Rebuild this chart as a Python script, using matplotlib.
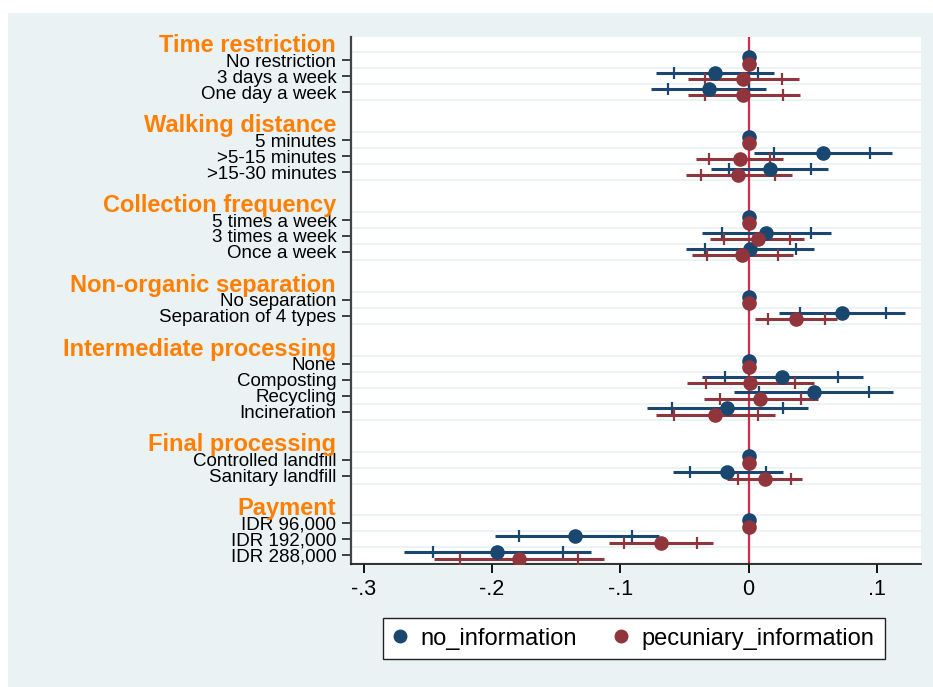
import numpy as np
import matplotlib
matplotlib.use("Agg")
import matplotlib.pyplot as plt
from matplotlib.lines import Line2D
from matplotlib.patches import Rectangle

plt.rcParams['font.family'] = ['Liberation Sans', 'DejaVu Sans']

nan = np.nan

groups = ["Time restriction", "Walking distance", "Collection frequency",
          "Non-organic separation", "Intermediate processing",
          "Final processing", "Payment"]
levels = [
    ["No restriction", "3 days a week", "One day a week"],
    ["5 minutes", ">5-15 minutes", ">15-30 minutes"],
    ["5 times a week", "3 times a week", "Once a week"],
    ["No separation", "Separation of 4 types"],
    ["None", "Composting", "Recycling", "Incineration"],
    ["Controlled landfill", "Sanitary landfill"],
    ["IDR 96,000", "IDR 192,000", "IDR 288,000"],
]

series_names = ["no_information", "pecuniary_information"]

no_coef = [0, -0.026, -0.031, 0, 0.058, 0.017, 0, 0.014, 0.001, 0, 0.073,
           0, 0.026, 0.051, -0.017, 0, -0.017, 0, -0.135, -0.196]
no_lo_outer = [nan, -0.072, -0.076, nan, 0.004, -0.029, nan, -0.036, -0.049, nan, 0.024,
               nan, -0.036, -0.011, -0.079, nan, -0.059, nan, -0.198, -0.269]
no_hi_outer = [nan, 0.020, 0.014, nan, 0.112, 0.062, nan, 0.064, 0.051, nan, 0.122,
               nan, 0.089, 0.113, 0.046, nan, 0.027, nan, -0.070, -0.123]
no_lo_inner = [nan, -0.058, -0.063, nan, 0.020, -0.015, nan, -0.021, -0.034, nan, 0.040,
               nan, -0.018, 0.008, -0.060, nan, -0.046, nan, -0.179, -0.246]
no_hi_inner = [nan, 0.007, 0.000, nan, 0.095, 0.049, nan, 0.049, 0.037, nan, 0.107,
               nan, 0.070, 0.094, 0.027, nan, 0.014, nan, -0.091, -0.145]

pe_coef = [0, -0.004, -0.004, 0, -0.007, -0.008, 0, 0.007, -0.005, 0, 0.037,
           0, 0.001, 0.009, -0.026, 0, 0.013, 0, -0.068, -0.179]
pe_lo_outer = [nan, -0.047, -0.047, nan, -0.041, -0.049, nan, -0.030, -0.044, nan, 0.005,
               nan, -0.048, -0.035, -0.072, nan, -0.017, nan, -0.109, -0.245]
pe_hi_outer = [nan, 0.039, 0.040, nan, 0.027, 0.034, nan, 0.043, 0.035, nan, 0.069,
               nan, 0.051, 0.054, 0.021, nan, 0.042, nan, -0.028, -0.113]
pe_lo_inner = [nan, -0.034, -0.034, nan, -0.031, -0.037, nan, -0.019, -0.032, nan, 0.015,
               nan, -0.033, -0.022, -0.058, nan, -0.008, nan, -0.097, -0.225]
pe_hi_inner = [nan, 0.026, 0.027, nan, 0.017, 0.021, nan, 0.032, 0.023, nan, 0.060,
               nan, 0.036, 0.041, 0.007, nan, 0.033, nan, -0.040, -0.133]

xticks = [-0.3, -0.2, -0.1, 0, 0.1]
xticklabels = ["-.3", "-.2", "-.1", "0", ".1"]

BLUE = "#1a476f"
RED = "#90353b"
BG = "#eaf2f3"
ORANGE = "#ff7f00"
ZERO = "#d42a4c"

W, H = 933, 687
fig = plt.figure(figsize=(W / 100, H / 100), dpi=100, facecolor="white")
fig.patches.append(Rectangle((8 / W, 0), 1 - 8 / W, 1 - 13 / H, transform=fig.transFigure,
                             facecolor=BG, edgecolor="none", zorder=-10))

ax = fig.add_axes([351 / W, (H - 564) / H, 570 / W, 527 / H])
ax.set_facecolor("white")

# positions
header_pos = []
item_pos = []
item_labels = []
p = 0
for g, lv in zip(groups, levels):
    header_pos.append(p)
    for j, name in enumerate(lv):
        item_pos.append(p + 1 + j)
        item_labels.append(name)
    p += len(lv) + 2
item_pos = np.array(item_pos, dtype=float)

# grid lines between rows
p = 0
for g, lv in zip(groups, levels):
    for j in range(len(lv) + 1):
        ax.axhline(p + 0.5 + j, color=BG, lw=1.3, zorder=1)
    p += len(lv) + 2

ax.axvline(0, color=ZERO, lw=1.6, zorder=2)

def draw(coef, lo_o, hi_o, lo_i, hi_i, color, off):
    y = item_pos + off
    coef = np.array(coef); lo_o = np.array(lo_o); hi_o = np.array(hi_o)
    lo_i = np.array(lo_i); hi_i = np.array(hi_i)
    ok = ~np.isnan(lo_o)
    ax.hlines(y[ok], lo_o[ok], hi_o[ok], color=color, lw=2.2, zorder=3)
    ax.plot(lo_i[ok], y[ok], ls="none", marker="|", ms=8, mew=1.6, color=color, zorder=3)
    ax.plot(hi_i[ok], y[ok], ls="none", marker="|", ms=8, mew=1.6, color=color, zorder=3)
    ax.plot(coef, y, ls="none", marker="o", ms=9.5, color=color, mec=color, zorder=4)

draw(no_coef, no_lo_outer, no_hi_outer, no_lo_inner, no_hi_inner, BLUE, -0.2)
draw(pe_coef, pe_lo_outer, pe_hi_outer, pe_lo_inner, pe_hi_inner, RED, 0.2)

ax.set_xlim(-0.310, 0.1345)
ax.set_ylim(32.54, -0.46)

ax.set_yticks(item_pos)
ax.set_yticklabels(item_labels, fontsize=13.5)
ax.set_xticks(xticks)
ax.set_xticklabels(xticklabels, fontsize=15.5)
ax.tick_params(axis="y", length=6.5, width=1.3, pad=4, color="#333333")
ax.tick_params(axis="x", length=6.5, width=1.3, pad=4, color="black")

for g, hp in zip(groups, header_pos):
    ax.annotate(g, xy=(0, hp + 0.08), xycoords=("axes fraction", "data"),
                xytext=(-10.8, 0), textcoords="offset points",
                ha="right", va="center", fontsize=17, fontweight="bold",
                color=ORANGE, annotation_clip=False)

for s in ["top", "right"]:
    ax.spines[s].set_visible(False)
ax.spines["left"].set_color("#444444")
ax.spines["left"].set_linewidth(1.6)
ax.spines["bottom"].set_color("#222222")
ax.spines["bottom"].set_linewidth(1.3)

handles = [Line2D([], [], ls="none", marker="o", ms=9, color=BLUE),
           Line2D([], [], ls="none", marker="o", ms=9, color=RED)]
leg = fig.legend(handles, series_names, loc="center", ncol=2,
                 bbox_to_anchor=(634 / W, 1 - 638.5 / H), bbox_transform=fig.transFigure,
                 fontsize=17, frameon=True, fancybox=False, edgecolor="#222222",
                 facecolor="white", framealpha=1, handlelength=0.55, handletextpad=0.6,
                 columnspacing=1.6, borderpad=0.42)
leg.get_frame().set_linewidth(1.0)

fig.savefig("out.png", dpi=100, facecolor="white")
